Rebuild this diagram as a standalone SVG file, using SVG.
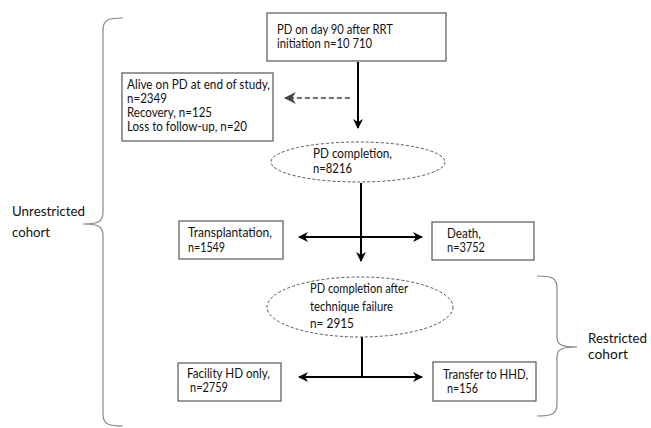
<svg xmlns="http://www.w3.org/2000/svg" width="651" height="428" viewBox="0 0 651 428">
<style>
text{font-family:Lato,"Open Sans","Liberation Sans",sans-serif;font-size:12.6px;fill:#111}
.big{font-size:14px}
.box{fill:#fff;stroke:#555;stroke-width:1.2}
.ell{fill:#fff;stroke:#555;stroke-width:1;stroke-dasharray:3 2}
.arr{stroke:#000;stroke-width:2;fill:none}
.brace{stroke:#888;stroke-width:1.2;fill:none}
</style>
<defs>
<marker id="ah" viewBox="0 0 10 10" refX="9" refY="5" markerWidth="5" markerHeight="5" orient="auto-start-reverse" markerUnits="strokeWidth">
<path d="M0,0 L10,5 L0,10 L3,5 Z" fill="#000"/>
</marker>
<marker id="ahd" viewBox="0 0 10 10" refX="9" refY="5" markerWidth="8" markerHeight="8" orient="auto-start-reverse" markerUnits="strokeWidth">
<path d="M0,0 L10,5 L0,10 L3,5 Z" fill="#444"/>
</marker>
</defs>
<g id="brace-unrestricted">
<path class="brace" d="M123,18 C108,18 103,20 103,30 L103,212 C103,222 98,224 83,224 C98,224 103,226 103,236 L103,414 C103,424 108,426 123,426"/>
<text class="big" x="12" y="216" textLength="73" lengthAdjust="spacingAndGlyphs">Unrestricted</text>
<text class="big" x="12" y="237" textLength="38" lengthAdjust="spacingAndGlyphs">cohort</text>
</g>
<g id="brace-restricted">
<path class="brace" d="M537,276 C552,276 557,278 557,288 L557,337 C557,345 562,347 577,347 C562,347 557,349 557,357 L557,404 C557,414 552,416 537,416"/>
<text class="big" x="588" y="343" textLength="59" lengthAdjust="spacingAndGlyphs">Restricted</text>
<text class="big" x="588" y="359" textLength="40" lengthAdjust="spacingAndGlyphs">cohort</text>
</g>
<g id="connectors">
<line class="arr" x1="358" y1="62" x2="358" y2="128" marker-end="url(#ah)"/>
<line x1="350" y1="98" x2="285" y2="98" stroke="#444" stroke-width="1.5" stroke-dasharray="5 3" marker-end="url(#ahd)"/>
<line class="arr" x1="361" y1="183" x2="361" y2="261" marker-end="url(#ah)"/>
<line class="arr" x1="299" y1="237" x2="422" y2="237" marker-start="url(#ah)" marker-end="url(#ah)"/>
<line class="arr" x1="362" y1="337" x2="362" y2="377"/>
<line class="arr" x1="299" y1="377" x2="422" y2="377" marker-start="url(#ah)" marker-end="url(#ah)"/>
</g>
<g id="n-start">
<rect class="box" x="267" y="13" width="179" height="48"/>
<text x="277" y="34" textLength="116" lengthAdjust="spacingAndGlyphs">PD on day 90 after RRT</text>
<text x="277" y="48" textLength="95" lengthAdjust="spacingAndGlyphs">initiation n=10 710</text>
</g>
<g id="n-alive">
<rect class="box" x="122" y="73" width="151" height="68"/>
<text x="127" y="89" textLength="143" lengthAdjust="spacingAndGlyphs">Alive on PD at end of study,</text>
<text x="127" y="103" textLength="40" lengthAdjust="spacingAndGlyphs">n=2349</text>
<text x="127" y="117" textLength="85" lengthAdjust="spacingAndGlyphs">Recovery, n=125</text>
<text x="127" y="131" textLength="120" lengthAdjust="spacingAndGlyphs">Loss to follow-up, n=20</text>
</g>
<g id="n-pdcomp">
<ellipse class="ell" cx="358" cy="162" rx="87" ry="20"/>
<text x="313" y="158" textLength="79" lengthAdjust="spacingAndGlyphs">PD completion,</text>
<text x="313" y="173" textLength="39" lengthAdjust="spacingAndGlyphs">n=8216</text>
</g>
<g id="n-transplant">
<rect class="box" x="179" y="221" width="104" height="38"/>
<text x="188" y="237" textLength="84" lengthAdjust="spacingAndGlyphs">Transplantation,</text>
<text x="188" y="252" textLength="37" lengthAdjust="spacingAndGlyphs">n=1549</text>
</g>
<g id="n-death">
<rect class="box" x="432" y="222" width="102" height="38"/>
<text x="447" y="238" textLength="34" lengthAdjust="spacingAndGlyphs">Death,</text>
<text x="447" y="252" textLength="38" lengthAdjust="spacingAndGlyphs">n=3752</text>
</g>
<g id="n-pdfail">
<ellipse class="ell" cx="360" cy="307" rx="93" ry="30"/>
<text x="310" y="293" textLength="98" lengthAdjust="spacingAndGlyphs">PD completion after</text>
<text x="310" y="311" textLength="83" lengthAdjust="spacingAndGlyphs">technique failure</text>
<text x="310" y="328" textLength="44" lengthAdjust="spacingAndGlyphs">n= 2915</text>
</g>
<g id="n-facility">
<rect class="box" x="178" y="363" width="103" height="38"/>
<text x="187" y="378" textLength="83" lengthAdjust="spacingAndGlyphs">Facility HD only,</text>
<text x="190" y="392" textLength="38" lengthAdjust="spacingAndGlyphs">n=2759</text>
</g>
<g id="n-hhd">
<rect class="box" x="433" y="362" width="103" height="39"/>
<text x="443" y="379" textLength="85" lengthAdjust="spacingAndGlyphs">Transfer to HHD,</text>
<text x="447" y="393" textLength="31" lengthAdjust="spacingAndGlyphs">n=156</text>
</g>
</svg>
